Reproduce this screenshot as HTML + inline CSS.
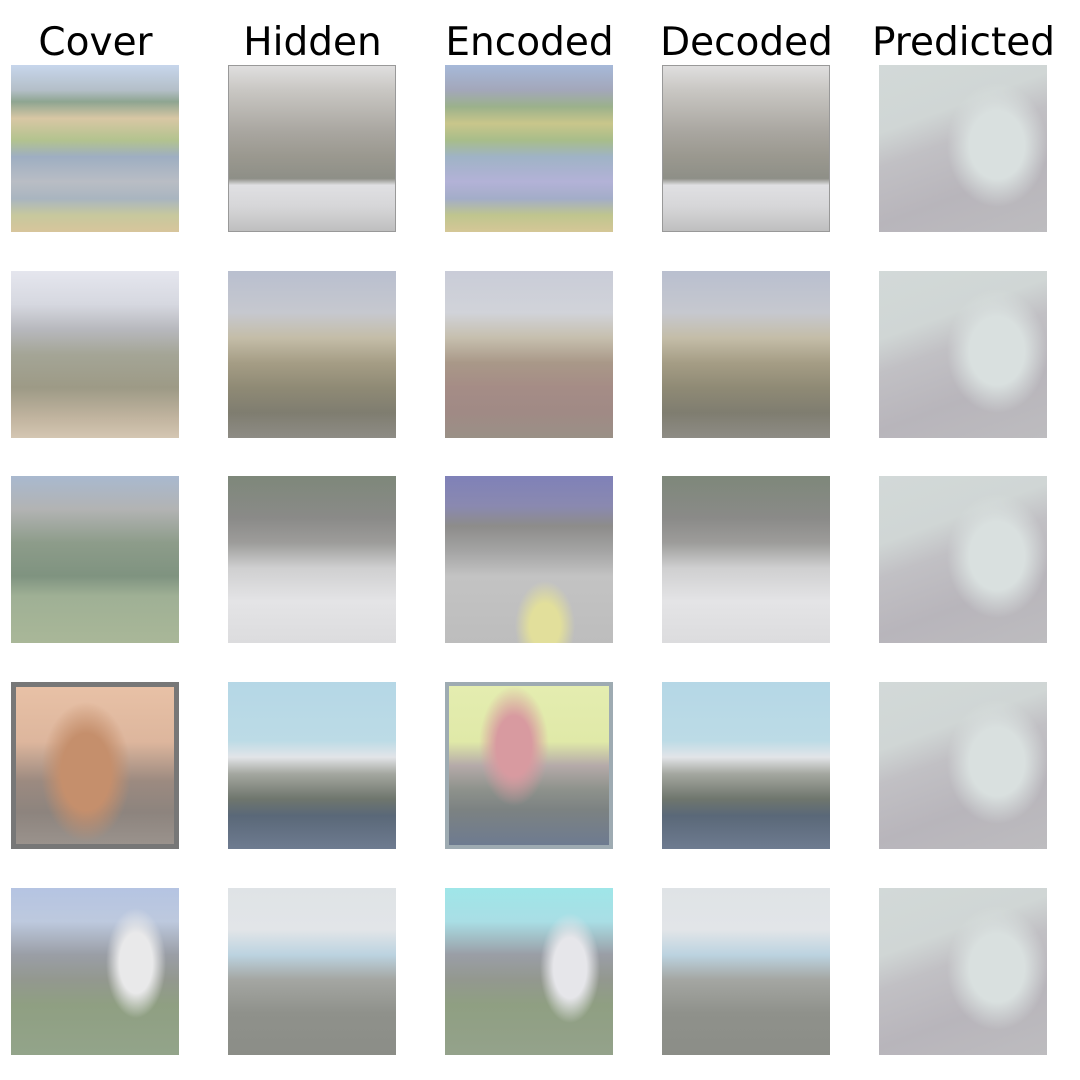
<!DOCTYPE html>
<html><head><meta charset="utf-8"><style>
body{margin:0;width:1080px;height:1080px;background:#fff;position:relative;overflow:hidden;font-family:"DejaVu Sans","Liberation Sans",sans-serif}
.t{position:absolute;top:18px;width:217px;text-align:center;font-size:39px;color:#000;line-height:50px}
.im{position:absolute;width:168px;height:167px;overflow:hidden}
.pred{background:
 radial-gradient(ellipse 50px 62px at 118px 80px,#d9e0df 55%,rgba(217,224,223,0) 100%),
 linear-gradient(160deg,#d2d9d8 0%,#d0d6d5 30%,#c1c0c4 45%,#b8b5bb 70%,#bdbcbf 100%);}
</style></head><body>
<div class="t" style="left:-13px">Cover</div>
<div class="t" style="left:204px">Hidden</div>
<div class="t" style="left:421px">Encoded</div>
<div class="t" style="left:638px">Decoded</div>
<div class="t" style="left:855px">Predicted</div>

<!-- row 1 -->
<div class="im" style="left:11px;top:65px;background:linear-gradient(180deg,#c7d6ec 0%,#b4bfc8 15%,#8ea591 22%,#d8c7a4 32%,#b3c38f 45%,#9eaec2 55%,#b9bdc4 70%,#a9b5c0 80%,#c7c89d 90%,#d7c59c 100%)"></div>
<div class="im" style="left:228px;top:65px;outline:1px solid #999;outline-offset:-1px;background:linear-gradient(180deg,#e0e0e0 0%,#c9c7c3 15%,#a9a6a0 40%,#9a988f 55%,#8e8f87 68%,#e0e0e3 72%,#d6d6d8 85%,#bebebe 100%)"></div>
<div class="im" style="left:445px;top:65px;background:linear-gradient(180deg,#a6b9d9 0%,#a3a7ba 15%,#9bb18b 25%,#c9c68b 35%,#a8bd8a 45%,#9fb3c6 55%,#b3b2d7 70%,#a3adc8 80%,#bfc58e 90%,#d5c797 100%)"></div>
<div class="im" style="left:662px;top:65px;outline:1px solid #999;outline-offset:-1px;background:linear-gradient(180deg,#e0e0e0 0%,#c9c7c3 15%,#a9a6a0 40%,#9a988f 55%,#8e8f87 68%,#e0e0e3 72%,#d6d6d8 85%,#bebebe 100%)"></div>
<div class="im pred" style="left:879px;top:65px"></div>

<!-- row 2 -->
<div class="im" style="left:11px;top:271px;background:linear-gradient(180deg,#e5e6ee 0%,#d6d8e0 20%,#b7b8bd 35%,#a4a596 50%,#9d9a86 70%,#c1b49f 88%,#d4c6b2 100%)"></div>
<div class="im" style="left:228px;top:271px;background:linear-gradient(180deg,#b9bfcf 0%,#c6c8cf 25%,#c4bda8 40%,#a59d85 55%,#8f8a75 70%,#7f7d70 85%,#8e8c85 100%)"></div>
<div class="im" style="left:445px;top:271px;background:linear-gradient(180deg,#c9ccd8 0%,#d1d3d9 25%,#c6bfae 40%,#a99888 55%,#a58c86 70%,#a08a85 85%,#9a9086 100%)"></div>
<div class="im" style="left:662px;top:271px;background:linear-gradient(180deg,#b9bfcf 0%,#c6c8cf 25%,#c4bda8 40%,#a59d85 55%,#8f8a75 70%,#7f7d70 85%,#8e8c85 100%)"></div>
<div class="im pred" style="left:879px;top:271px"></div>

<!-- row 3 -->
<div class="im" style="left:11px;top:476px;background:linear-gradient(180deg,#a9b9cf 0%,#b2b3b3 20%,#8d9c8a 40%,#7f9380 60%,#9fb095 72%,#a9b798 100%)"></div>
<div class="im" style="left:228px;top:476px;background:linear-gradient(180deg,#7e887a 0%,#8a8a88 25%,#9d9c9a 40%,#cfcfd0 55%,#e4e4e6 75%,#dcdcde 100%)"></div>
<div class="im" style="left:445px;top:476px;background:
 radial-gradient(ellipse 30px 45px at 100px 150px,#e2df9b 50%,transparent 100%),
 linear-gradient(180deg,#7f81b8 0%,#8a89b0 18%,#8d8c8a 30%,#a4a4a4 45%,#c3c3c3 60%,#bdbdbd 100%)"></div>
<div class="im" style="left:662px;top:476px;background:linear-gradient(180deg,#7e887a 0%,#8a8a88 25%,#9d9c9a 40%,#cfcfd0 55%,#e4e4e6 75%,#dcdcde 100%)"></div>
<div class="im pred" style="left:879px;top:476px"></div>

<!-- row 4 -->
<div class="im" style="left:11px;top:682px;box-sizing:border-box;border:5px solid #777;background:
 radial-gradient(ellipse 45px 70px at 70px 85px,#c58f6c 55%,transparent 100%),
 linear-gradient(180deg,#e8c1a6 0%,#ddb69d 35%,#9c8a80 60%,#8d847e 80%,#9a928c 100%)"></div>
<div class="im" style="left:228px;top:682px;background:linear-gradient(180deg,#b5d7e6 0%,#bcdbe6 35%,#e2e4e8 45%,#a4a7a0 55%,#6f766d 70%,#5a6878 80%,#6e7b90 100%)"></div>
<div class="im" style="left:445px;top:682px;box-sizing:border-box;border:4px solid #9eabb2;background:
 radial-gradient(ellipse 35px 60px at 65px 60px,#d89aa0 50%,transparent 100%),
 linear-gradient(180deg,#e4edb0 0%,#e0e9a8 35%,#b5aaa9 50%,#8e928c 65%,#7c8282 78%,#6e7b90 100%)"></div>
<div class="im" style="left:662px;top:682px;background:linear-gradient(180deg,#b5d7e6 0%,#bcdbe6 35%,#e2e4e8 45%,#a4a7a0 55%,#6f766d 70%,#5a6878 80%,#6e7b90 100%)"></div>
<div class="im pred" style="left:879px;top:682px"></div>

<!-- row 5 -->
<div class="im" style="left:11px;top:888px;background:
 radial-gradient(ellipse 30px 55px at 125px 75px,#e9e9ea 55%,transparent 100%),
 linear-gradient(180deg,#b5c4e2 0%,#bdc9de 20%,#9a9ea6 40%,#93988f 55%,#8f9f82 70%,#93a48a 100%)"></div>
<div class="im" style="left:228px;top:888px;background:linear-gradient(180deg,#dfe3e6 0%,#e2e5e8 25%,#bcd3e0 40%,#a4a6a2 55%,#8f918b 75%,#8b8d87 100%)"></div>
<div class="im" style="left:445px;top:888px;background:
 radial-gradient(ellipse 30px 55px at 125px 80px,#e6e6ea 55%,transparent 100%),
 linear-gradient(180deg,#9fe6e8 0%,#a9dee5 20%,#9a9ea6 40%,#93988f 55%,#8f9f82 70%,#94a28b 100%)"></div>
<div class="im" style="left:662px;top:888px;background:linear-gradient(180deg,#dfe3e6 0%,#e2e5e8 25%,#bcd3e0 40%,#a4a6a2 55%,#8f918b 75%,#8b8d87 100%)"></div>
<div class="im pred" style="left:879px;top:888px"></div>
</body></html>
